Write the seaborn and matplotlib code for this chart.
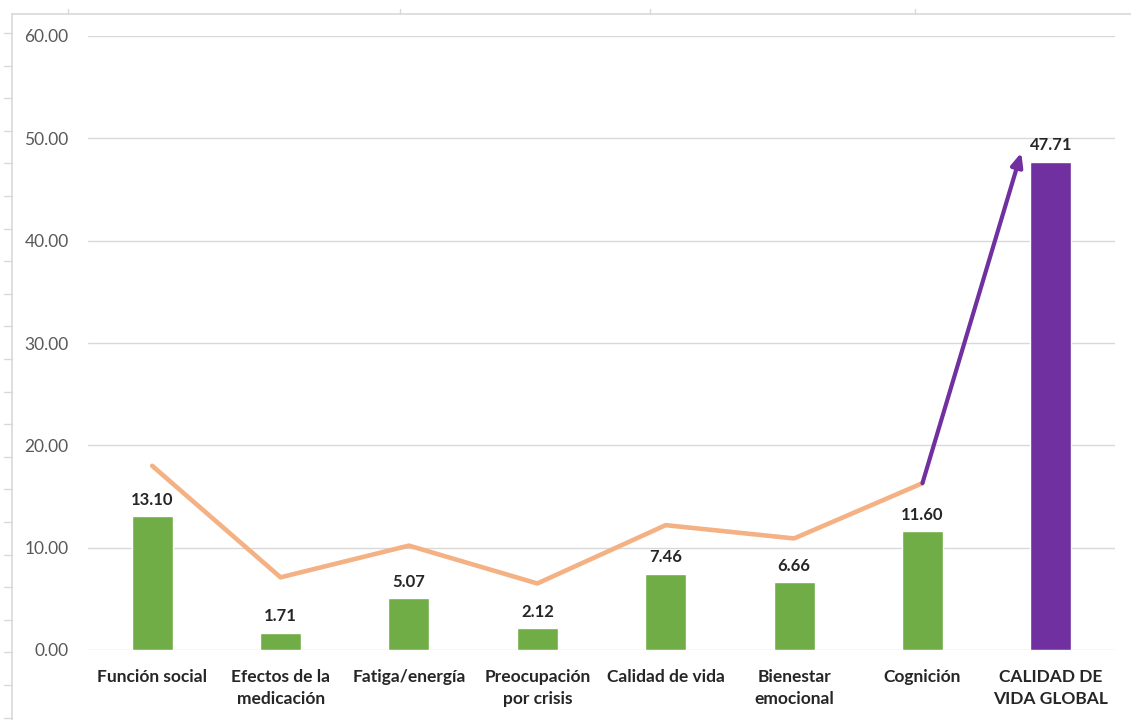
import numpy as np
import pandas as pd
import matplotlib.pyplot as plt
import seaborn as sns
from matplotlib.lines import Line2D

categories = ["Función social", "Efectos de la\nmedicación", "Fatiga/energía",
              "Preocupación\npor crisis", "Calidad de vida", "Bienestar\nemocional",
              "Cognición", "CALIDAD DE\nVIDA GLOBAL"]
bar_values = [13.10, 1.71, 5.07, 2.12, 7.46, 6.66, 11.60, 47.71]
line_values = [18.0, 7.1, 10.2, 6.5, 12.2, 10.9, 16.3]
arrow_target = (6.77, 48.6)  # just left of the global bar top

GREEN = "#70AD47"
PURPLE = "#7030A0"
ORANGE = "#F4B183"
bar_colors = [GREEN] * 7 + [PURPLE]

sns.set_style("white")
plt.rcParams['font.family'] = ['Lato', 'DejaVu Sans']

df = pd.DataFrame({"cat": categories, "val": bar_values})

fig = plt.figure(figsize=(11.31, 7.2), dpi=100)
ax = fig.add_axes([88/1131, 1-650/720, (1115-88)/1131, (650-36)/720])

sns.barplot(data=df, x="cat", y="val", hue="cat", palette=bar_colors,
            saturation=1, width=0.32, legend=False, ax=ax, zorder=2)

sns.lineplot(x=np.arange(len(line_values)), y=line_values, color=ORANGE,
             linewidth=3.3, ax=ax, zorder=3)

# purple arrow from last line point to top of global bar
ax.annotate("", xy=arrow_target, xytext=(len(line_values)-1, line_values[-1]),
            arrowprops=dict(arrowstyle="-|>,head_length=0.8,head_width=0.35",
                            color=PURPLE, lw=3, shrinkA=0, shrinkB=0), zorder=4)

for i, v in enumerate(bar_values):
    ax.annotate(f"{v:.2f}", (i, v), xytext=(0, 6), textcoords="offset points",
                ha="center", va="bottom", fontsize=12, fontweight="bold",
                color="#262626")

ax.set_ylim(0, 60)
ax.set_xlim(-0.5, len(categories)-0.5)
ax.set_yticks(np.arange(0, 61, 10))
ax.set_yticklabels([f"{t:.2f}" for t in np.arange(0, 61, 10)])
ax.grid(axis="y", color="#d9d9d9", linewidth=1, zorder=0)
ax.set_axisbelow(True)
for s in ax.spines.values():
    s.set_visible(False)
ax.tick_params(axis="y", length=0, pad=14, labelsize=12.5, labelcolor="#595959")
ax.tick_params(axis="x", length=0, pad=14, labelsize=12.5, labelcolor="#262626")
for lab in ax.get_xticklabels():
    lab.set_fontweight("bold")
    lab.set_linespacing(1.45)
ax.set_xlabel("")
ax.set_ylabel("")

# faint spreadsheet cell borders around the screenshot
W, H = 1131, 720
frame = "#d9d9d9"
fig.add_artist(Line2D([12/W, 12/W], [0, 1-14/H], color=frame, lw=1.2))
fig.add_artist(Line2D([12/W, 1], [1-14/H, 1-14/H], color=frame, lw=1.2))
for yp in np.arange(33, 720, 32.6):
    fig.add_artist(Line2D([4/W, 12/W], [1-yp/H, 1-yp/H], color=frame, lw=1))
for xp in [68, 400, 650, 915]:
    fig.add_artist(Line2D([xp/W, xp/W], [1-14/H, 1-9/H], color=frame, lw=1))

fig.savefig("out.png", dpi=100)
